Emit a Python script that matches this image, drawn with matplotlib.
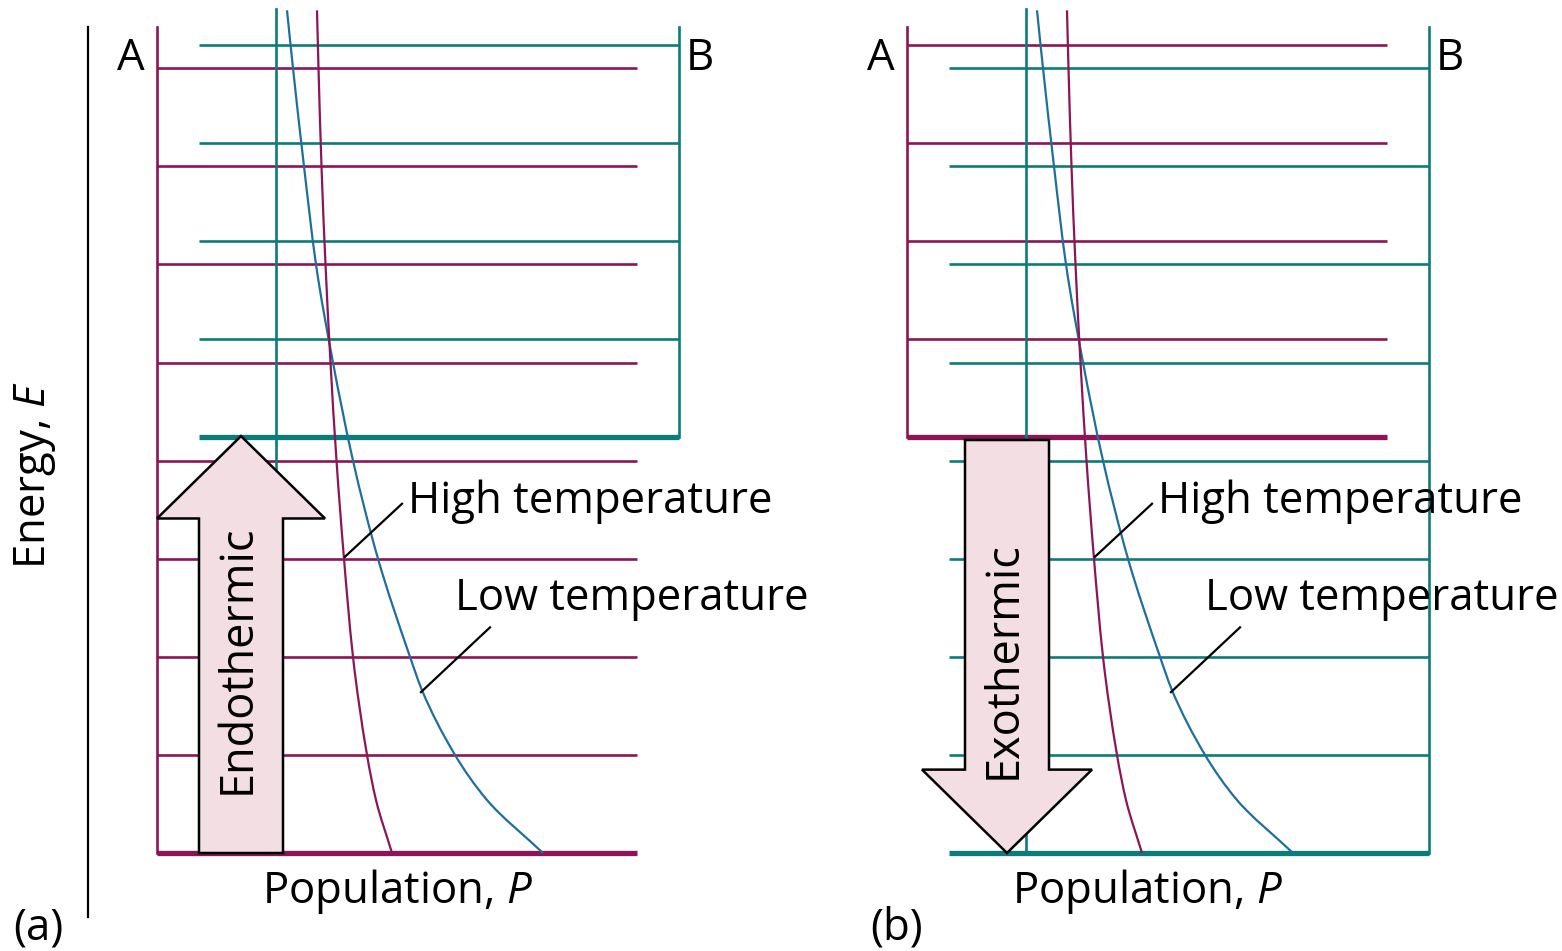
import numpy as np
import matplotlib
matplotlib.use("Agg")
import matplotlib.pyplot as plt
from matplotlib.patches import Polygon, PathPatch
from matplotlib.path import Path

plt.rcParams['font.family'] = ['Open Sans', 'DejaVu Sans']
plt.rcParams['mathtext.fontset'] = 'custom'
plt.rcParams['mathtext.rm'] = 'Open Sans'
plt.rcParams['mathtext.it'] = 'Open Sans:italic'

# ---------------- data (energy in level spacings, population in arbitrary units) -------------
lower_levels = [0, 1, 2, 3, 4, 5, 6, 7, 8]          # 9 levels of the low-lying well
upper_levels = [4.24, 5.24, 6.24, 7.24, 8.24]       # 5 levels of the high-lying well

# Boltzmann population curves (energy, population)
low_T_E = [8.59, 8.00, 7.00, 6.00, 5.00, 4.00, 3.00, 2.00, 1.66, 1.00, 0.54, 0.00]
low_T_P = [1.30, 1.36, 1.47, 1.59, 1.76, 1.96, 2.21, 2.53, 2.65, 2.98, 3.30, 3.86]
high_T_E = [8.59, 8.00, 7.00, 6.00, 5.00, 4.00, 3.00, 2.00, 1.00, 0.54, 0.00]
high_T_P = [1.60, 1.615, 1.645, 1.685, 1.735, 1.795, 1.87, 1.96, 2.10, 2.19, 2.35]

curve_labels = ["High temperature", "Low temperature"]
arrow_labels = ["Endothermic", "Exothermic"]
panel_tags = ["(a)", "(b)"]
state_names = ["A", "B"]
xlabel = "Population, $\\mathit{P}$"
ylabel = "Energy, $\\mathit{E}$"

# ---------------- styles ----------------
MAG = "#8C1556"
TEAL = "#0C7C78"
BLUE = "#1F6E9C"
PINK = "#F2DEE3"
THIN = 1.9
THICK = 3.8
FS = 31.5

W, H = 15.62, 9.51
fig = plt.figure(figsize=(W, H), dpi=100)

# pixel geometry of one panel: P=0 at x0 px, 100 px per population unit; E=0 at 853 px, 98.1 px/level
def make_axes(x0):
    ax = fig.add_axes([0, 0, 1, 1])
    ax.patch.set_alpha(0)
    ax.set_xlim(-x0 / 100.0, (1562 - x0) / 100.0)
    ax.set_ylim((853 - 951) / 98.1, 853 / 98.1)
    ax.axis('off')
    return ax

A_SPAN = (0.0, 4.80)
B_SPAN = (0.42, 5.22)
TOP = 8.42
AXIS_P = 1.19

def smooth_path(P, E):
    """Monotone cubic (Fritsch-Carlson) P(E) through the read points, as Bezier segments."""
    e = np.asarray(E, float)[::-1]
    p = np.asarray(P, float)[::-1]
    h = np.diff(e)
    d = np.diff(p) / h
    m = np.zeros_like(p)
    m[0], m[-1] = d[0], d[-1]
    for i in range(1, len(p) - 1):
        if d[i - 1] * d[i] <= 0:
            m[i] = 0.0
        else:
            w1 = 2 * h[i] + h[i - 1]
            w2 = h[i] + 2 * h[i - 1]
            m[i] = (w1 + w2) / (w1 / d[i - 1] + w2 / d[i])
    verts = [(p[0], e[0])]
    codes = [Path.MOVETO]
    for i in range(len(p) - 1):
        verts += [(p[i] + m[i] * h[i] / 3, e[i] + h[i] / 3),
                  (p[i + 1] - m[i + 1] * h[i] / 3, e[i + 1] - h[i] / 3),
                  (p[i + 1], e[i + 1])]
        codes += [Path.CURVE4] * 3
    return Path(verts, codes)

def draw_levels(ax, levels, span, color, vert_p):
    for i, e in enumerate(levels):
        ax.plot(span, [e, e], color=color, lw=THICK if i == 0 else THIN,
                solid_capstyle='butt', zorder=2)
    ax.plot([vert_p, vert_p], [levels[0], TOP], color=color, lw=THIN, zorder=2)

def draw_panel(ax, A_levels, B_levels, arrow_up, tag, arrow_text):
    draw_levels(ax, A_levels, A_SPAN, MAG, A_SPAN[0])
    draw_levels(ax, B_levels, B_SPAN, TEAL, B_SPAN[1])
    ax.plot([AXIS_P, AXIS_P], [0, 8.6], color=TEAL, lw=THIN, zorder=2)
    ax.add_patch(PathPatch(smooth_path(low_T_P, low_T_E), facecolor='none',
                           edgecolor=BLUE, lw=1.6, zorder=3))
    ax.add_patch(PathPatch(smooth_path(high_T_P, high_T_E), facecolor='none',
                           edgecolor=MAG, lw=1.6, zorder=3))

    # arrow
    if arrow_up:
        sl, sr, wl, wr = 0.42, 1.26, 0.0, 1.68
        e0, e1, hb = 0.0, 4.25, 3.41
    else:
        sl, sr, wl, wr = 0.58, 1.42, 0.15, 1.85
        e0, e1, hb = 4.21, 0.0, 0.85
    tip = (sl + sr) / 2
    verts = [(sl, e0), (sr, e0), (sr, hb), (wr, hb), (tip, e1), (wl, hb), (sl, hb)]
    ax.add_patch(Polygon(verts, closed=True, facecolor=PINK, edgecolor='black',
                         lw=1.8, joinstyle='miter', zorder=5))
    ax.text(tip - 0.03, 1.97, arrow_text, rotation=90, ha='center', va='center',
            fontsize=32.5, zorder=6)

    # leaders and curve labels
    ax.plot([1.88, 2.45], [3.02, 3.56], color='black', lw=1.6, zorder=4)
    ax.text(2.51, 3.58, curve_labels[0], ha='left', va='center', fontsize=FS)
    ax.plot([2.64, 3.33], [1.64, 2.30], color='black', lw=1.6, zorder=4)
    ax.text(2.98, 2.59, curve_labels[1], ha='left', va='center', fontsize=FS)

    ax.text(-0.26, 8.10, state_names[0], ha='center', va='center', fontsize=FS)
    ax.text(5.43, 8.10, state_names[1], ha='center', va='center', fontsize=FS)
    ax.text(2.40, -0.39, xlabel, ha='center', va='center', fontsize=FS)
    ax.text(-1.19 if tag == "(a)" else -0.10, -0.765, tag, ha='center', va='center', fontsize=FS)

ax_a = make_axes(157)
draw_panel(ax_a, lower_levels, upper_levels, True, panel_tags[0], arrow_labels[0])
ax_a.plot([-0.69, -0.69], [-0.65, 8.42], color='black', lw=1.6)
ax_a.text(-1.22, 3.85, ylabel, rotation=90, ha='center', va='center', fontsize=FS)

ax_b = make_axes(907)
draw_panel(ax_b, upper_levels, lower_levels, False, panel_tags[1], arrow_labels[1])

fig.savefig("out.png", dpi=100)
